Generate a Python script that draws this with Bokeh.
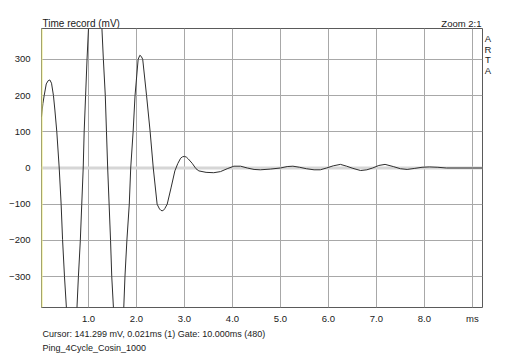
from bokeh.plotting import figure
from bokeh.layouts import column, row
from bokeh.models import Range1d, FixedTicker, Span, Label, PrintfTickFormatter
from bokeh.embed import file_html
from bokeh.resources import INLINE

# Time record (ms) and amplitude (mV)
t_ms = [0.021, 0.05, 0.077, 0.12, 0.16, 0.195, 0.23, 0.27, 0.30, 0.34, 0.39, 0.43, 0.46, 0.50,
        0.54, 0.58, 0.62, 0.65, 0.68, 0.72, 0.76, 0.79, 0.83, 0.86, 0.89, 0.91, 0.94, 0.97,
        1.00, 1.05, 1.10, 1.145, 1.19, 1.24, 1.28, 1.31, 1.35, 1.375, 1.40, 1.43, 1.46, 1.485,
        1.52, 1.57, 1.61, 1.64, 1.67, 1.70, 1.735, 1.76, 1.80, 1.85, 1.88, 1.93, 1.97, 2.035,
        2.07, 2.10, 2.13, 2.21, 2.285, 2.35, 2.43, 2.48, 2.51, 2.535, 2.56, 2.59, 2.64, 2.72,
        2.80, 2.86, 2.92, 2.96, 3.00, 3.04, 3.08, 3.16, 3.24, 3.30, 3.45, 3.61, 3.75, 3.89,
        4.03, 4.17, 4.31, 4.45, 4.58, 4.79, 5.00, 5.14, 5.26, 5.40, 5.54, 5.70, 5.83, 5.96,
        6.10, 6.25, 6.38, 6.51, 6.67, 6.80, 6.92, 7.05, 7.18, 7.35, 7.50, 7.64, 7.80, 7.95,
        8.10, 8.28, 8.46, 8.70, 9.00, 9.21]
v_mv = [141, 178, 200, 232, 241, 243, 234, 200, 160, 100, 0, -100, -198, -300,
        -386, -440, -480, -492, -485, -450, -386, -300, -200, -100, 0, 100, 200, 300,
        385, 490, 565, 590, 570, 490, 385, 300, 200, 100, 0, -100, -200, -300,
        -386, -445, -470, -475, -465, -435, -386, -300, -200, -100, 0, 100, 200, 300,
        311, 308, 300, 200, 100, 0, -100, -113, -117, -118, -117, -112, -100, -55,
        -8, 12, 27, 31, 32, 30, 25, 13, -2, -8, -12, -13, -10, -2,
        5, 5, 0, -4, -5, -3, 0, 4, 5, 2, -2, -5, -5, 0,
        6, 10, 5, -1, -7, -5, 0, 7, 10, 4, -2, -4, -1, 2,
        3, 2, 0, 0, 0, 0]

x_ticks = [1, 2, 3, 4, 5, 6, 7, 8, 9]
x_tick_labels = {9: "ms"}
x_grid = [1, 2, 3, 4, 5, 6, 7, 8, 9]
y_ticks = [-300, -200, -100, 0, 100, 200, 300]
y_grid = [-300, -200, -100, 100, 200, 300]

FONT = "Liberation Sans"
TXT = "#1a1a1a"


def blank(w, h):
    f = figure(width=w, height=h, x_range=Range1d(0, 1), y_range=Range1d(0, 1),
               output_backend="svg", toolbar_location=None, title=None,
               x_axis_location=None, y_axis_location=None, min_border=0,
               min_border_left=0, min_border_right=0, min_border_top=0, min_border_bottom=0)
    f.grid.visible = False
    f.outline_line_color = None
    f.background_fill_color = "white"
    f.border_fill_color = "white"
    return f


def lab(f, txt, x, y, align="left", size="9.5px"):
    f.add_layout(Label(x=x, y=y, x_units="screen", y_units="screen", text=txt,
                       text_font=FONT, text_font_size=size, text_align=align,
                       text_baseline="alphabetic", text_color=TXT))


# top strip (its frame is aligned with the main plot's frame: x measured from the plot's left edge)
top = blank(483, 28)
lab(top, "Time record (mV)", 1, 5, size="10px")
lab(top, "Zoom 2:1", 440, 5, align="right")

# main plot
p = figure(width=483, height=298, x_range=Range1d(0.021, 9.21), y_range=Range1d(-385, 385),
           output_backend="svg", toolbar_location=None, title=None,
           min_border_left=41, min_border_right=1, min_border_top=0, min_border_bottom=17)
p.background_fill_color = "white"
p.border_fill_color = "white"
p.outline_line_color = "#5a5a5a"
p.outline_line_width = 1

for ax in (p.xaxis[0], p.yaxis[0]):
    ax.axis_line_color = None
    ax.major_tick_line_color = None
    ax.minor_tick_line_color = None
    ax.major_tick_out = 0
    ax.major_tick_in = 0
    ax.major_label_text_font = FONT
    ax.major_label_text_font_size = "9.5px"
    ax.major_label_text_color = TXT

p.xaxis.ticker = FixedTicker(ticks=x_ticks)
p.xaxis.formatter = PrintfTickFormatter(format="%.1f")
p.xaxis.major_label_overrides = x_tick_labels
p.xaxis.major_label_standoff = 5
p.yaxis.ticker = FixedTicker(ticks=y_ticks)
p.yaxis.major_label_standoff = 11

p.xgrid.ticker = FixedTicker(ticks=x_grid)
p.ygrid.ticker = FixedTicker(ticks=y_grid)
p.xgrid.grid_line_color = "#a8a8a8"
p.ygrid.grid_line_color = "#a8a8a8"

p.add_layout(Span(location=0, dimension="width", line_color="#d6d6d6", line_width=3, level="underlay"))
p.add_layout(Span(location=0.021, dimension="height", line_color="#eeee80", line_width=2))

p.line(t_ms, v_mv, line_color="#2e2e2e", line_width=1)

# bottom strip
bottom = blank(483, 27)
lab(bottom, "Cursor: 141.299 mV, 0.021ms (1)  Gate: 10.000ms (480)", 1, 19.5, size="9px")
lab(bottom, "Ping_4Cycle_Cosin_1000", 1, 5.5, size="9px")

# right strip with the vertical ARTA mark (full page height)
side = blank(29, 353)
for i, ch in enumerate("ARTA"):
    lab(side, ch, 4.5, 353 - 38 - i * 10.7, align="center")

layout = row(column(top, p, bottom), side)
open("out.html", "w").write(file_html(layout, INLINE))
